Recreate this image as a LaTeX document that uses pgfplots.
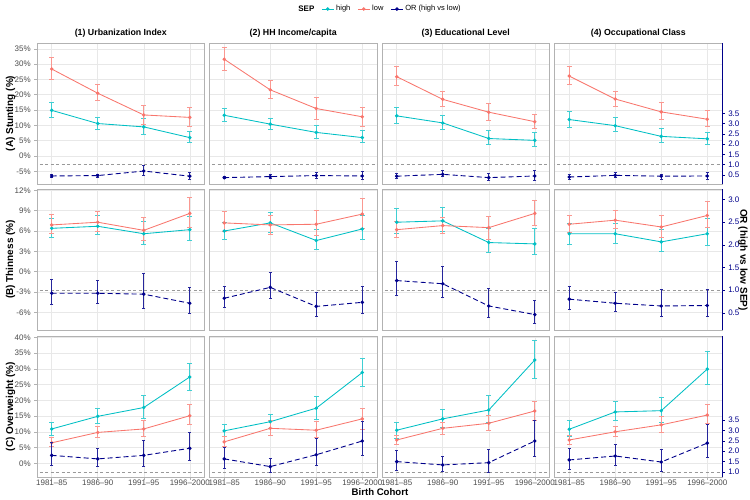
\documentclass[border=0pt]{standalone}
\usepackage{fontspec}
\setmainfont{Liberation Sans}
\usepackage{pgfplots}
\usepackage{pgfplotstable}
\pgfplotsset{compat=1.18}

\definecolor{cHigh}{HTML}{00BFC4}
\definecolor{cLow}{HTML}{F8766D}
\definecolor{cOR}{HTML}{00008B}

% x: cohort index; h = high SEP, l = low SEP, o = OR; y / lower / upper
\pgfplotstableread{
x hy hl hu ly ll lu oy ol ou
1 14.9 12.6 17.5 28.4 25.1 32.2 0.45 0.37 0.53
2 10.6 8.7 12.6 20.5 18.0 23.5 0.47 0.39 0.55
3 9.5 7.2 12.2 13.4 10.4 16.4 0.69 0.47 0.98
4 6.0 4.3 7.9 12.6 9.8 15.8 0.44 0.29 0.64
}\tAone
\pgfplotstableread{
x hy hl hu ly ll lu oy ol ou
1 13.3 11.2 15.7 31.6 27.9 35.5 0.37 0.32 0.42
2 10.4 8.7 12.4 21.6 18.7 24.7 0.42 0.32 0.53
3 7.7 5.7 10.1 15.5 12.1 19.0 0.47 0.32 0.64
4 6.0 4.5 8.2 12.8 9.8 15.9 0.45 0.29 0.66
}\tAtwo
\pgfplotstableread{
x hy hl hu ly ll lu oy ol ou
1 13.1 10.6 16.0 25.9 23.1 29.4 0.44 0.34 0.56
2 10.8 8.7 13.2 18.5 16.1 21.1 0.53 0.44 0.71
3 5.7 3.7 8.4 14.3 11.7 17.2 0.37 0.24 0.58
4 5.1 3.2 7.7 11.2 9.1 13.6 0.45 0.24 0.73
}\tAthree
\pgfplotstableread{
x hy hl hu ly ll lu oy ol ou
1 11.9 9.5 14.7 26.1 23.3 29.3 0.40 0.30 0.51
2 9.9 7.9 12.5 18.6 16.3 21.2 0.48 0.37 0.61
3 6.4 4.3 8.9 14.4 11.8 17.4 0.44 0.30 0.55
4 5.6 3.8 7.8 12.0 9.6 14.8 0.45 0.30 0.61
}\tAfour
\pgfplotstableread{
x hy hl hu ly ll lu oy ol ou
1 6.4 5.1 7.8 6.9 5.6 8.5 0.93 0.69 1.24
2 6.7 5.5 8.3 7.3 6.0 8.9 0.93 0.70 1.21
3 5.6 4.1 7.4 6.1 4.6 8.0 0.91 0.60 1.37
4 6.2 4.6 8.1 8.6 6.6 10.9 0.71 0.48 1.05
}\tBone
\pgfplotstableread{
x hy hl hu ly ll lu oy ol ou
1 6.0 4.8 7.3 7.2 5.9 8.9 0.82 0.62 1.09
2 7.2 5.8 8.7 6.9 5.5 8.3 1.06 0.81 1.40
3 4.6 3.3 6.2 7.0 5.4 9.0 0.64 0.42 0.96
4 6.3 4.7 8.3 8.5 6.4 10.8 0.73 0.49 1.08
}\tBtwo
\pgfplotstableread{
x hy hl hu ly ll lu oy ol ou
1 7.3 5.7 9.3 6.2 5.1 7.4 1.21 0.88 1.64
2 7.5 6.0 9.5 6.8 5.6 8.0 1.14 0.85 1.52
3 4.3 2.8 6.4 6.5 4.8 8.2 0.65 0.40 1.04
4 4.1 2.6 6.4 8.6 6.9 10.5 0.46 0.27 0.78
}\tBthree
\pgfplotstableread{
x hy hl hu ly ll lu oy ol ou
1 5.6 4.1 7.2 7.0 5.8 8.3 0.80 0.57 1.08
2 5.6 4.2 7.2 7.6 6.4 9.1 0.71 0.52 0.96
3 4.4 3.0 6.3 6.6 5.1 8.3 0.65 0.42 1.02
4 5.6 3.9 7.8 8.3 6.5 10.4 0.66 0.43 1.02
}\tBfour
\pgfplotstableread{
x hy hl hu ly ll lu oy ol ou
1 10.9 8.9 13.0 6.5 5.3 8.1 1.80 1.32 2.43
2 14.9 12.6 17.3 9.8 8.1 11.6 1.63 1.25 2.12
3 17.7 14.4 21.6 10.9 8.5 13.6 1.80 1.27 2.52
4 27.4 23.2 31.8 15.1 12.2 18.6 2.14 1.56 2.91
}\tCone
\pgfplotstableread{
x hy hl hu ly ll lu oy ol ou
1 10.3 8.5 12.4 6.8 5.3 8.5 1.63 1.16 2.19
2 13.2 11.0 15.5 11.1 9.0 13.5 1.26 0.97 1.64
3 17.5 14.0 21.3 10.5 8.1 13.2 1.83 1.30 2.60
4 28.8 24.3 33.3 14.1 10.8 17.5 2.49 1.80 3.44
}\tCtwo
\pgfplotstableread{
x hy hl hu ly ll lu oy ol ou
1 10.5 8.0 13.0 7.4 6.0 8.9 1.50 1.08 2.06
2 14.1 11.4 17.0 11.1 9.2 13.0 1.34 1.01 1.77
3 16.9 13.0 21.6 12.7 10.3 15.2 1.45 0.99 2.09
4 32.8 27.0 39.0 16.6 13.7 19.8 2.49 1.77 3.49
}\tCthree
\pgfplotstableread{
x hy hl hu ly ll lu oy ol ou
1 10.8 8.5 13.6 7.4 6.0 8.9 1.58 1.13 2.14
2 16.3 13.5 19.6 10.0 8.5 11.8 1.77 1.32 2.33
3 16.7 13.0 21.0 12.2 9.8 14.9 1.48 1.01 2.09
4 29.9 25.2 35.4 15.3 12.7 18.7 2.39 1.72 3.29
}\tCfour

\pgfplotsset{
  base/.style={width=167.5pt, height=141pt, scale only axis, anchor=south west,
    xmin=0.68, xmax=4.32, xtick={1,2,3,4}},
  main/.style={base, grid=major,
    major grid style={color=black!9, line width=0.5pt},
    axis line style={color=black!30, line width=0.6pt},
    xtick style={draw=none}, ytick style={draw=none},
    xticklabels={}, yticklabels={},
    tick align=outside, major tick length=2.75pt,
    xtick pos=bottom, ytick pos=left,
    ticklabel style={font=\fontsize{8}{9}\selectfont, text=black!70},
    xticklabel style={yshift=3.5pt}},
  leftcol/.style={ytick style={draw=black!30, line width=0.5pt}},
  bottomrow/.style={xtick style={draw=black!30, line width=0.5pt},
    xticklabels={1981--85,1986--90,1991--95,1996--2000}},
  rowA/.style={ymin=-9.15, ymax=36.9, ytick={-5,0,...,35}},
  rowB/.style={ymin=-8.6, ymax=12.2, ytick={-6,-3,...,12}},
  rowC/.style={ymin=-4.35, ymax=40.4, ytick={0,5,...,40}},
  labA/.style={yticklabels={-5\%,0\%,5\%,10\%,15\%,20\%,25\%,30\%,35\%}},
  labB/.style={yticklabels={-6\%,-3\%,0\%,3\%,6\%,9\%,12\%}},
  labC/.style={yticklabels={0\%,5\%,10\%,15\%,20\%,25\%,30\%,35\%,40\%}},
  orA/.style={ymin=0.06, ymax=6.92},
  orB/.style={ymin=0.12, ymax=3.23},
  orC/.style={ymin=0.76, ymax=7.54},
  orhidden/.style={base, hide axis},
  orright/.style={base, axis x line=none, axis y line*=right,
    y axis line style={-, color=cOR, line width=0.8pt},
    ytick style={color=cOR, line width=0.5pt},
    tick align=outside, major tick length=2.75pt,
    yticklabel style={font=\fontsize{8}{9}\selectfont, text=cOR}},
  orticksA/.style={ytick={0.5,1,...,3.5}, yticklabels={0.5,1.0,1.5,2.0,2.5,3.0,3.5}},
  orticksB/.style={ytick={0.5,1,...,3}, yticklabels={0.5,1.0,1.5,2.0,2.5,3.0}},
  orticksC/.style={ytick={1,1.5,...,3.5}, yticklabels={1.0,1.5,2.0,2.5,3.0,3.5}},
  hiline/.style={color=cHigh, line width=0.85pt, mark=*, mark size=1.3pt,
    error bars/.cd, y dir=both, y explicit,
    error bar style={line width=0.75pt, color=cHigh!75},
    error mark options={rotate=90, mark size=2.3pt, line width=0.75pt, color=cHigh!75}},
  loline/.style={color=cLow, line width=0.85pt, mark=*, mark size=1.3pt,
    error bars/.cd, y dir=both, y explicit,
    error bar style={line width=0.75pt, color=cLow!75},
    error mark options={rotate=90, mark size=2.3pt, line width=0.75pt, color=cLow!75}},
  orline/.style={color=cOR, line width=0.9pt, dash pattern=on 5pt off 3pt,
    mark=*, mark size=1.3pt, mark options={solid},
    error bars/.cd, y dir=both, y explicit,
    error bar style={solid, line width=0.75pt, color=cOR!85},
    error mark options={rotate=90, solid, mark size=1.7pt, line width=0.75pt, color=cOR!85}},
  refline/.style={color=black!40, line width=0.6pt, dash pattern=on 3pt off 2.5pt},
}

\newcommand{\panel}[5]{%
  \begin{axis}[main, at={(#1)}, #3]
    \addplot[hiline] table[x=x, y=hy,
      y error plus expr=\thisrow{hu}-\thisrow{hy},
      y error minus expr=\thisrow{hy}-\thisrow{hl}] {#2};
    \addplot[loline] table[x=x, y=ly,
      y error plus expr=\thisrow{lu}-\thisrow{ly},
      y error minus expr=\thisrow{ly}-\thisrow{ll}] {#2};
  \end{axis}
  \begin{axis}[at={(#1)}, #4]
    \addplot[refline] coordinates {(0.5,1) (4.5,1)};
    \addplot[orline] table[x=x, y=oy,
      y error plus expr=\thisrow{ou}-\thisrow{oy},
      y error minus expr=\thisrow{oy}-\thisrow{ol}] {#2};
  \end{axis}#5}

\begin{document}
\begin{tikzpicture}
\useasboundingbox (0pt,0pt) rectangle (750pt,500pt);

% row A (bottom at 316pt)
\panel{37pt,316pt}{\tAone}{rowA, leftcol, labA}{orhidden, orA}{}
\panel{209.5pt,316pt}{\tAtwo}{rowA}{orhidden, orA}{}
\panel{382pt,316pt}{\tAthree}{rowA}{orhidden, orA}{}
\panel{554.5pt,316pt}{\tAfour}{rowA}{orright, orA, orticksA}{}
% row B (bottom at 170pt)
\panel{37pt,170pt}{\tBone}{rowB, leftcol, labB}{orhidden, orB}{}
\panel{209.5pt,170pt}{\tBtwo}{rowB}{orhidden, orB}{}
\panel{382pt,170pt}{\tBthree}{rowB}{orhidden, orB}{}
\panel{554.5pt,170pt}{\tBfour}{rowB}{orright, orB, orticksB}{}
% row C (bottom at 23pt)
\panel{37pt,23pt}{\tCone}{rowC, leftcol, labC, bottomrow}{orhidden, orC}{}
\panel{209.5pt,23pt}{\tCtwo}{rowC, bottomrow}{orhidden, orC}{}
\panel{382pt,23pt}{\tCthree}{rowC, bottomrow}{orhidden, orC}{}
\panel{554.5pt,23pt}{\tCfour}{rowC, bottomrow}{orright, orC, orticksC}{}

% legend
\begin{axis}[base, hide axis, at={(37pt,316pt)}, ymin=0, ymax=1,
    legend columns=-1,
    legend style={at={(2.045,1.241)}, anchor=center, draw=none, fill=none,
      font=\fontsize{7.5}{9}\selectfont,
      /tikz/every even column/.append style={column sep=5pt}},
    legend image code/.code={\draw[mark repeat=2, mark phase=2, #1]
      plot coordinates {(0pt,0pt) (6pt,0pt) (12pt,0pt)};}]
  \addlegendimage{empty legend}
  \addlegendentry{\fontsize{8}{9}\selectfont\bfseries SEP}
  \addlegendimage{color=cHigh, line width=0.85pt, mark=*, mark size=1.3pt}
  \addlegendentry{high}
  \addlegendimage{color=cLow, line width=0.85pt, mark=*, mark size=1.3pt}
  \addlegendentry{low}
  \addlegendimage{color=cOR, line width=0.85pt, mark=*, mark size=1.3pt}
  \addlegendentry{OR (high vs low)}
\end{axis}

% strip titles
\begin{scope}[font=\bfseries\fontsize{8.8}{10}\selectfont]
  \node at (120.75pt,466.3pt) {(1) Urbanization Index};
  \node at (293.25pt,466.3pt) {(2) HH Income/capita};
  \node at (465.75pt,466.3pt) {(3) Educational Level};
  \node at (638.25pt,466.3pt) {(4) Occupational Class};
\end{scope}

% axis titles
\begin{scope}[font=\bfseries\fontsize{10}{12}\selectfont]
  \node[rotate=90] at (10.5pt,386.5pt) {(A) Stunting (\%)};
  \node[rotate=90] at (10.5pt,240.5pt) {(B) Thinness (\%)};
  \node[rotate=90] at (10.5pt,93.5pt) {(C) Overweight (\%)};
  \node[rotate=-90] at (743pt,240pt) {OR (high vs low SEP)};
  \node[font=\bfseries\fontsize{9.6}{11}\selectfont] at (380pt,8pt) {Birth Cohort};
\end{scope}
\end{tikzpicture}
\end{document}
